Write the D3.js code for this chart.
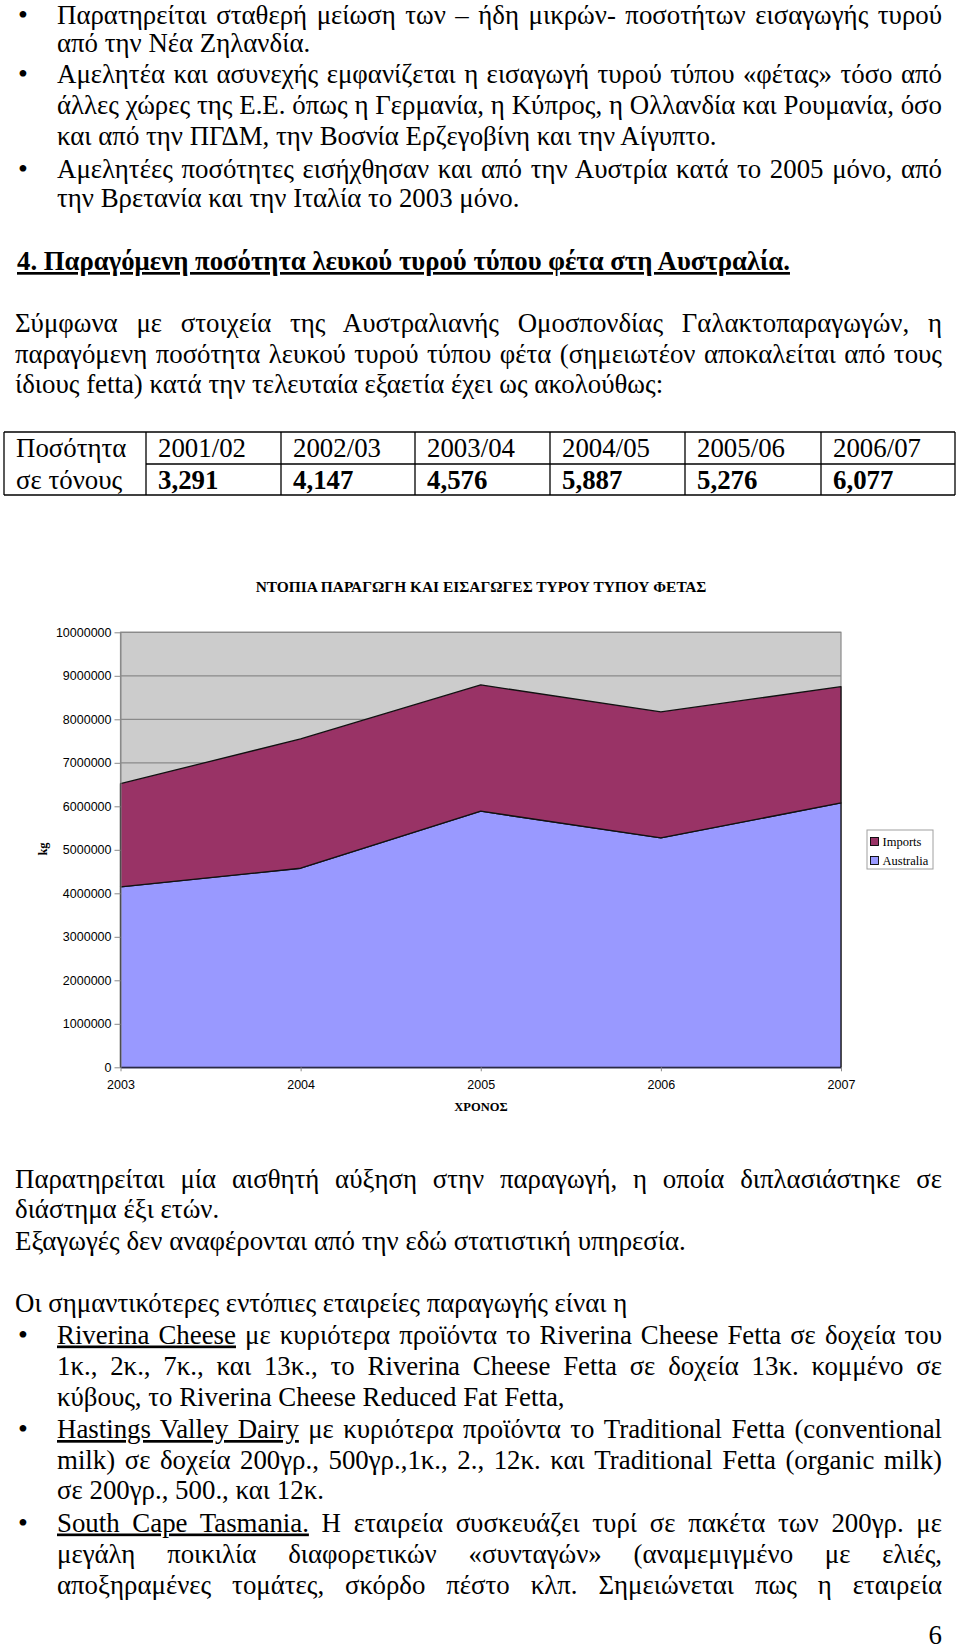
<!DOCTYPE html>
<html lang="el"><head><meta charset="utf-8">
<script src="https://cdn.jsdelivr.net/npm/d3@7"></script>
<style>
html,body{margin:0;padding:0;background:#fff;}
svg{display:block;}
</style></head>
<body>
<script>
// ---------- data ----------
const years = [2003, 2004, 2005, 2006, 2007];
const australia = [4147000, 4576000, 5887000, 5276000, 6077000];
const imports = [2373000, 2974000, 2903000, 2894000, 2673000];
const yTicks = [0,1000000,2000000,3000000,4000000,5000000,6000000,7000000,8000000,9000000,10000000];
const seriesNames = ["Australia", "Imports"];
const legendNames = ["Imports", "Australia"];
const tableRowLabels = ["Ποσότητα", "σε τόνους"];
const tablePeriods = ["2001/02", "2002/03", "2003/04", "2004/05", "2005/06", "2006/07"];
const tableTonnes = ["3,291", "4,147", "4,576", "5,887", "5,276", "6,077"];
const chartTitle = "ΝΤΟΠΙΑ ΠΑΡΑΓΩΓΗ ΚΑΙ ΕΙΣΑΓΩΓΕΣ ΤΥΡΟΥ ΤΥΠΟΥ ΦΕΤΑΣ";
const xTitle = "ΧΡΟΝΟΣ";
const yTitle = "kg";

// ---------- text ----------
const topLines = [
  {b:1, t:"Παρατηρείται σταθερή μείωση των – ήδη μικρών- ποσοτήτων εισαγωγής τυρού", j:1},
  {t:"από την Νέα Ζηλανδία."},
  {b:1, t:"Αμελητέα και ασυνεχής εμφανίζεται η εισαγωγή τυρού τύπου «φέτας» τόσο από", j:1},
  {t:"άλλες χώρες της Ε.Ε. όπως η Γερμανία, η Κύπρος, η Ολλανδία και Ρουμανία, όσο", j:1},
  {t:"και από την ΠΓΔΜ, την Βοσνία Ερζεγοβίνη και την Αίγυπτο."},
  {b:1, t:"Αμελητέες ποσότητες εισήχθησαν και από την Αυστρία κατά το 2005 μόνο, από", j:1},
  {t:"την Βρετανία και την Ιταλία το 2003 μόνο."}
];
const heading = "4. Παραγόμενη ποσότητα λευκού τυρού τύπου φέτα στη Αυστραλία.";
const introLines = [
  {t:"Σύμφωνα με στοιχεία της Αυστραλιανής Ομοσπονδίας Γαλακτοπαραγωγών, η", j:1},
  {t:"παραγόμενη ποσότητα λευκού τυρού τύπου φέτα (σημειωτέον αποκαλείται από τους", j:1},
  {t:"ίδιους fetta) κατά την τελευταία εξαετία έχει ως ακολούθως:"}
];
const afterLines = [
  {t:"Παρατηρείται μία αισθητή αύξηση στην παραγωγή, η οποία διπλασιάστηκε σε", j:1},
  {t:"διάστημα έξι ετών."},
  {t:"Εξαγωγές δεν αναφέρονται από την εδώ στατιστική υπηρεσία."},
  {t:"Οι σημαντικότερες εντόπιες εταιρείες παραγωγής είναι η"}
];
const companyLines = [
  {b:1, u:"Riverina Cheese", t:" με κυριότερα προϊόντα το Riverina Cheese Fetta σε δοχεία του", j:1},
  {t:"1κ., 2κ., 7κ., και 13κ., το Riverina Cheese Fetta σε δοχεία 13κ. κομμένο σε", j:1},
  {t:"κύβους, το Riverina Cheese Reduced Fat Fetta,"},
  {b:1, u:"Hastings Valley Dairy", t:" με κυριότερα προϊόντα το Traditional Fetta (conventional", j:1},
  {t:"milk) σε δοχεία 200γρ., 500γρ.,1κ., 2., 12κ. και Traditional Fetta (organic milk)", j:1},
  {t:"σε 200γρ., 500., και 12κ."},
  {b:1, u:"South Cape Tasmania.", t:" Η εταιρεία συσκευάζει τυρί σε πακέτα των 200γρ. με", j:1},
  {t:"μεγάλη ποικιλία διαφορετικών «συνταγών» (αναμεμιγμένο με ελιές,", j:1},
  {t:"αποξηραμένες τομάτες, σκόρδο πέστο κλπ. Σημειώνεται πως η εταιρεία", j:1}
];

const W = 960, H = 1650;
const serif = "'Liberation Serif','Times New Roman',serif";
const sans = "'Liberation Sans',Arial,sans-serif";
const svg = d3.select("body").append("svg").attr("width", W).attr("height", H);

function measure(str, size, weight) {
  const t = svg.append("text").attr("font-family", serif).attr("font-size", size)
    .attr("font-weight", weight || "normal").text(str);
  const w = t.node().getComputedTextLength(); t.remove(); return w;
}
let fs = 25 * 671 / measure(afterLines[2].t, 25);
fs = Math.max(22, Math.min(28, fs));
const LEFT = 15, BLEFT = 57, RIGHT = 942, BULLETX = 23;

function txt(x, y, size, weight) {
  return svg.append("text").attr("x", x).attr("y", y)
    .attr("font-family", serif).attr("font-size", size)
    .attr("font-weight", weight || "normal").attr("fill", "#000");
}
function drawLine(spec, x, y) {
  const t = txt(x, y, fs);
  if (spec.u) t.append("tspan").style("text-decoration", "underline").text(spec.u);
  t.append("tspan").text(spec.t);
  if (spec.j) {
    const w = t.node().getComputedTextLength();
    const full = (spec.u || "") + spec.t;
    const n = (full.match(/ /g) || []).length;
    if (n > 0) t.style("word-spacing", ((RIGHT - x - w) / n) + "px");
  }
  if (spec.b) txt(BULLETX, y, fs * 1.05).attr("text-anchor", "middle").text("•");
  return t;
}

// top bullets
const topY = [24, 51.5, 83, 114, 144.5, 178, 206.5];
topLines.forEach((l, i) => drawLine(l, BLEFT, topY[i]));

// heading
const hs = fs * 773 / measure(heading, fs, "bold");
txt(17, 270, hs, "bold").style("text-decoration", "underline").text(heading);

// intro paragraph
const introY = [332, 362.5, 393];
introLines.forEach((l, i) => drawLine(l, LEFT, introY[i]));

// ---------- table ----------
const colX = [4, 146, 281, 415, 550, 685, 821, 955];
const rowY = [432, 464, 495];
const tg = svg.append("g");
tg.selectAll("line.h").data(rowY).join("line")
  .attr("x1", (d, i) => i === 1 ? colX[1] : colX[0]).attr("x2", colX[7])
  .attr("y1", d => d).attr("y2", d => d).attr("stroke", "#000").attr("stroke-width", 1.3);
tg.selectAll("line.v").data(colX).join("line")
  .attr("x1", d => d).attr("x2", d => d).attr("y1", rowY[0]).attr("y2", rowY[2])
  .attr("stroke", "#000").attr("stroke-width", 1.3);
tableRowLabels.forEach((d, i) => txt(colX[0] + 12, i ? 488.5 : 457, fs).text(d));
tablePeriods.forEach((d, i) => txt(colX[i + 1] + 12, 457, fs).text(d));
tableTonnes.forEach((d, i) => txt(colX[i + 1] + 12, 488.5, fs, "bold").text(d));

// ---------- chart ----------
const x = d3.scaleLinear().domain([years[0], years[years.length - 1]]).range([120.5, 841]);
const y = d3.scaleLinear().domain([0, 10000000]).range([1067.3, 632.3]);
const rows = years.map((yr, i) => ({year: yr, Australia: australia[i], Imports: imports[i]}));
const stacked = d3.stack().keys(seriesNames)(rows);
const colors = {Australia: "#9999ff", Imports: "#993366"};

const cg = svg.append("g");
cg.append("rect").attr("x", x.range()[0]).attr("y", y(10000000))
  .attr("width", x.range()[1] - x.range()[0]).attr("height", y(0) - y(10000000))
  .attr("fill", "#cccccc").attr("stroke", "#8a8a8a").attr("stroke-width", 1.2);
cg.selectAll("line.grid").data(yTicks.filter(d => d > 0)).join("line")
  .attr("x1", x.range()[0]).attr("x2", x.range()[1])
  .attr("y1", d => y(d)).attr("y2", d => y(d))
  .attr("stroke", "#8a8a8a").attr("stroke-width", 1.2);
const area = d3.area().x(d => x(d.data.year)).y0(d => y(d[0])).y1(d => y(d[1]));
cg.selectAll("path.area").data(stacked).join("path")
  .attr("d", area).attr("fill", d => colors[d.key])
  .attr("stroke", "#111").attr("stroke-width", 1.3).attr("stroke-linejoin", "round");

const yAxis = cg.append("g").attr("transform", `translate(${x.range()[0]},0)`)
  .call(d3.axisLeft(y).tickValues(yTicks).tickFormat(d3.format("d")).tickSize(6).tickSizeOuter(0).tickPadding(3));
yAxis.select(".domain").attr("stroke", "#8a8a8a");
yAxis.selectAll(".tick line").attr("stroke", "#8a8a8a");
yAxis.selectAll("text").attr("font-family", sans).attr("font-size", 12.5).attr("fill", "#000");
const xAxis = cg.append("g").attr("transform", `translate(0,${y(0)})`)
  .call(d3.axisBottom(x).tickValues(years).tickFormat(d3.format("d")).tickSize(4).tickSizeOuter(0).tickPadding(9));
xAxis.select(".domain").attr("stroke", "#333355").attr("stroke-width", 1.3);
xAxis.selectAll(".tick line").attr("stroke", "#8a8a8a");
xAxis.selectAll("text").attr("font-family", sans).attr("font-size", 12.5).attr("fill", "#000");

const ts = 15.5 * 451 / measure(chartTitle, 15.5, "bold");
txt(481, 592, ts, "bold").attr("text-anchor", "middle").text(chartTitle);
txt(481, 1111, 12.5, "bold").attr("text-anchor", "middle").text(xTitle);
svg.append("text").attr("transform", "translate(47,849) rotate(-90)").attr("text-anchor", "middle")
  .attr("font-family", serif).attr("font-weight", "bold").attr("font-size", 12.5).text(yTitle);

// legend
const lg = svg.append("g");
lg.append("rect").attr("x", 867).attr("y", 830).attr("width", 66).attr("height", 39)
  .attr("fill", "#fff").attr("stroke", "#a0a0a0").attr("stroke-width", 1);
legendNames.forEach((d, i) => {
  lg.append("rect").attr("x", 870.5).attr("y", 837.5 + i * 19).attr("width", 8).attr("height", 8)
    .attr("fill", colors[d]).attr("stroke", "#000").attr("stroke-width", 0.9);
});
legendNames.forEach((d, i) => txt(882.5, 846 + i * 19, 12.5).text(d));

// after-chart text
const afterY = [1187.5, 1218, 1249.5, 1311.5];
afterLines.forEach((l, i) => drawLine(l, LEFT, afterY[i]));
const compY = [1343.5, 1374.5, 1405.5, 1438, 1468.5, 1499, 1531.5, 1563, 1593.5];
companyLines.forEach((l, i) => drawLine(l, BLEFT, compY[i]));

// page number
txt(RIGHT, 1644, fs).attr("text-anchor", "end").text("6");
</script>
</body></html>
